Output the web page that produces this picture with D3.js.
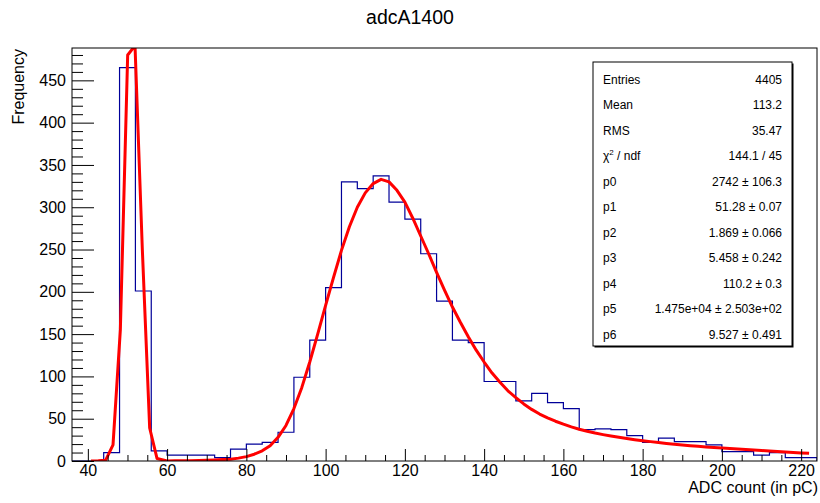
<!DOCTYPE html>
<html>
<head>
<meta charset="utf-8">
<script src="https://cdn.jsdelivr.net/npm/d3@7"></script>
<style>
  body { margin: 0; background: #fff; }
  svg { display: block; font-family: "Liberation Sans", Arial, Helvetica, sans-serif; }
</style>
</head>
<body>
<div id="chart"></div>
<script>
// histogram adcA1400, bins of 4 pC from 36 to 224
const binLow = d3.range(36, 224, 4);
const counts = [0, 0, 10, 465, 201, 12, 7, 7, 7, 4,
  14, 20, 22, 34, 99, 143, 205, 330, 322, 337,
  306, 286, 245, 189, 143, 140, 94, 94, 71, 80,
  69, 62, 37, 38, 37, 30, 22, 27, 23, 23,
  19, 11, 11, 7, 10, 4, 4];

// fit curve
const fitX = [40.8, 42.65, 44.5, 46.35, 48.2, 50.05, 51.9, 53.75, 55.6, 57.45,
  60, 62, 64, 66, 68, 70, 72, 74, 76, 78,
  80, 82, 84, 86, 88, 90, 92, 94, 96, 98,
  100, 102, 104, 106, 108, 110, 112, 114, 116, 118,
  120, 122, 124, 126, 128, 130, 132, 134, 136, 138,
  140, 142, 144, 146, 148, 150, 152, 154, 156, 158,
  160, 162, 164, 166, 168, 170, 172, 174, 176, 178,
  180, 182, 184, 186, 188, 190, 192, 194, 196, 198,
  200, 202, 204, 206, 208, 210, 212, 214, 216, 218,
  220, 222];
const fitY = [0, 0.2, 1, 19, 155, 480, 491, 250, 39, 3,
  0.1, 0.15, 0.25, 0.4, 0.6, 0.9, 1.3, 1.7, 2.2, 3.4,
  5.2, 8, 12, 18, 28, 42, 62, 87, 117, 150,
  184, 217, 249, 277, 300, 317, 328, 333, 330, 320,
  306, 287, 266, 245, 223, 202, 182, 164, 147, 131,
  117, 104, 93, 83, 75, 67.5, 61, 55.5, 51, 47,
  43.5, 40.3, 37.5, 35.1, 33, 31.2, 29.5, 28, 26.5, 25.2,
  24, 22.9, 21.8, 20.8, 19.8, 18.9, 18.1, 17.3, 16.6, 15.9,
  15.3, 14.7, 14.1, 13.5, 12.9, 12.3, 11.8, 11.2, 10.7, 10.1,
  9.6, 9.1];

const xMajor = [40, 60, 80, 100, 120, 140, 160, 180, 200, 220];
const yMajor = [0, 50, 100, 150, 200, 250, 300, 350, 400, 450];

const statLabels = ["Entries", "Mean", "RMS", "chi2", "p0", "p1", "p2", "p3", "p4", "p5", "p6"];
const statValues = ["4405", "113.2", "35.47", "144.1 / 45", "2742 \u00b1 106.3", "51.28 \u00b1 0.07",
  "1.869 \u00b1 0.066", "5.458 \u00b1 0.242", "110.2 \u00b1 0.3", "1.475e+04 \u00b1 2.503e+02", "9.527 \u00b1 0.491"];

const width = 820, height = 503;
const pLeft = 72, pRight = 817, pTop = 48, pBottom = 461;

const svg = d3.select("#chart").append("svg")
  .attr("width", width)
  .attr("height", height);

const x = d3.scaleLinear().domain([36, 224]).range([pLeft, pRight]);
const y = d3.scaleLinear().domain([0, 488.25]).range([pBottom, pTop]);

svg.append("clipPath").attr("id", "plotclip")
  .append("rect")
    .attr("x", pLeft).attr("y", pTop)
    .attr("width", pRight - pLeft).attr("height", pBottom - pTop);

// Histogram outline
const steps = [[36, 0]];
binLow.forEach((lo, i) => {
  steps.push([lo, counts[i]]);
  steps.push([lo + 4, counts[i]]);
});
steps.push([224, 0]);

svg.append("path")
  .datum(steps)
  .attr("fill", "none")
  .attr("stroke", "#000099")
  .attr("stroke-width", 1.2)
  .attr("clip-path", "url(#plotclip)")
  .attr("d", d3.line().x(d => x(d[0])).y(d => y(d[1])));

// Fit curve
svg.append("path")
  .datum(fitX.map((v, i) => [v, fitY[i]]))
  .attr("fill", "none")
  .attr("stroke", "#ff0000")
  .attr("stroke-width", 3)
  .attr("stroke-linejoin", "round")
  .attr("clip-path", "url(#plotclip)")
  .attr("d", d3.line().x(d => x(d[0])).y(d => y(d[1])));

// Frame
svg.append("rect")
  .attr("x", pLeft).attr("y", pTop)
  .attr("width", pRight - pLeft).attr("height", pBottom - pTop)
  .attr("fill", "none")
  .attr("stroke", "#000")
  .attr("stroke-width", 1);

// X axis
const xMinor = d3.range(45, 224, 5).filter(v => v % 20 !== 0);
svg.append("g")
  .attr("transform", `translate(0,${pBottom})`)
  .call(d3.axisBottom(x).tickValues(xMinor).tickSize(-6).tickFormat(""))
  .call(g => g.select(".domain").remove());
svg.append("g")
  .attr("transform", `translate(0,${pBottom})`)
  .call(d3.axisBottom(x).tickValues(xMajor).tickSize(-12).tickPadding(4).tickFormat(d3.format("d")))
  .call(g => g.select(".domain").remove())
  .call(g => g.selectAll("text").style("font-size", "16px").attr("fill", "#000")
    .style("font-family", "'Liberation Sans', Arial, sans-serif"));

// Y axis
const yMinor = d3.range(10, 488, 10).filter(v => v % 50 !== 0);
svg.append("g")
  .attr("transform", `translate(${pLeft},0)`)
  .call(d3.axisLeft(y).tickValues(yMinor).tickSize(-11).tickFormat(""))
  .call(g => g.select(".domain").remove());
svg.append("g")
  .attr("transform", `translate(${pLeft},0)`)
  .call(d3.axisLeft(y).tickValues(yMajor).tickSize(-22).tickPadding(6).tickFormat(d3.format("d")))
  .call(g => g.select(".domain").remove())
  .call(g => g.selectAll("text").style("font-size", "16px").attr("fill", "#000")
    .style("font-family", "'Liberation Sans', Arial, sans-serif"));

// Titles
svg.append("text")
  .attr("x", width / 2)
  .attr("y", 24)
  .attr("text-anchor", "middle")
  .style("font-size", "19.5px")
  .text("adcA1400");

svg.append("text")
  .attr("x", pRight + 1)
  .attr("y", 493)
  .attr("text-anchor", "end")
  .style("font-size", "16px")
  .text("ADC count (in pC)");

svg.append("text")
  .attr("transform", `translate(24,${pTop + 1}) rotate(-90)`)
  .attr("text-anchor", "end")
  .style("font-size", "16px")
  .text("Frequency");

// Stats box
const box = { x: 593, y: 62, w: 199, h: 284 };
svg.append("rect")
  .attr("x", box.x + 1.5).attr("y", box.y + 1.5)
  .attr("width", box.w).attr("height", box.h)
  .attr("fill", "#000");
svg.append("rect")
  .attr("x", box.x).attr("y", box.y)
  .attr("width", box.w).attr("height", box.h)
  .attr("fill", "#fff")
  .attr("stroke", "#000")
  .attr("stroke-width", 1);

const rowH = 25.45;
statLabels.forEach((lab, i) => {
  const t = svg.append("text")
    .attr("x", 603)
    .attr("y", 84 + i * rowH)
    .style("font-size", "12px");
  if (lab === "chi2") {
    t.append("tspan").text("\u03c7");
    t.append("tspan").attr("dy", -5).style("font-size", "8px").text("2");
    t.append("tspan").attr("dy", 5).text(" / ndf");
  } else {
    t.text(lab);
  }
  svg.append("text")
    .attr("x", 782)
    .attr("y", 84 + i * rowH)
    .attr("text-anchor", "end")
    .style("font-size", "12px")
    .text(statValues[i]);
});
</script>
</body>
</html>
